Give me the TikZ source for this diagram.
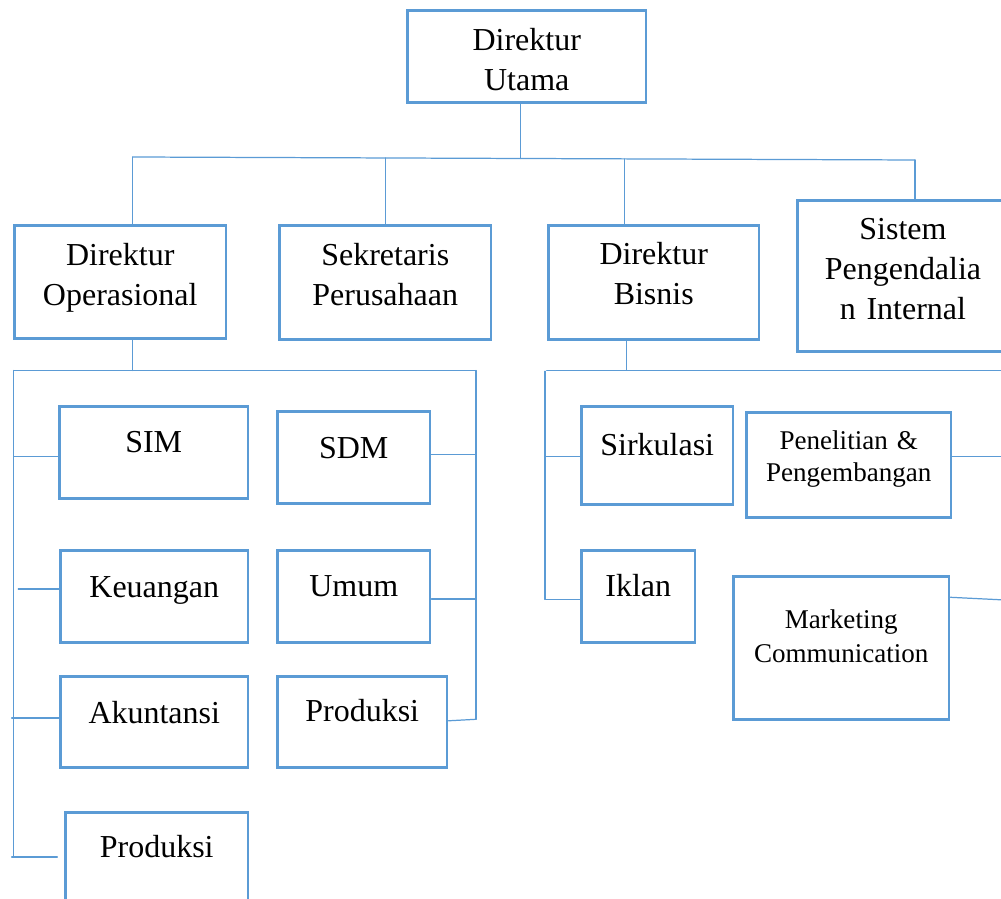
\documentclass[tikz,border=0pt]{standalone}
\usepackage{fontspec}
\setmainfont{Liberation Serif}
\usepackage{xcolor}
\definecolor{orgblue}{HTML}{5B9BD5}
\newcommand{\unitfont}{\fontsize{18.2pt}{22.8pt}\selectfont}
\newcommand{\smallunitfont}{\fontsize{15.4pt}{18pt}\selectfont}

\begin{document}
\begin{tikzpicture}[line cap=round,
  unit/.style={draw=orgblue,line width=1.7pt,anchor=north west,inner sep=0pt,align=center,font=\unitfont},
  link/.style={draw=orgblue,line width=0.7pt}]
\useasboundingbox (0,0) rectangle (20.02,17.98);
% top level
\node[unit,text width=4.77cm,text height=0.8cm,text depth=1.04cm] (utama) at (8.12,17.8) {Direktur\\Utama};
\node[unit,text width=4.23cm,text height=0.8cm,text depth=1.46cm] (dirops) at (0.26,13.5) {Direktur\\Operasional};
\node[unit,text width=4.23cm,text height=0.8cm,text depth=1.48cm] (sekre) at (5.56,13.5) {Sekretaris\\Perusahaan};
\node[unit,text width=4.21cm,text height=0.78cm,text depth=1.5cm] (dirbis) at (10.94,13.5) {Direktur\\Bisnis};
\node[unit,text width=4.22cm,text height=0.78cm,text depth=2.24cm] (spi) at (15.92,14.0) {Sistem\\Pengendalia\\n Internal};
% operasional
\node[unit,text width=3.77cm,text height=0.92cm,text depth=0.92cm] (sim) at (1.16,9.88) {SIM};
\node[unit,text width=3.05cm,text height=0.94cm,text depth=0.9cm] (sdm) at (5.52,9.78) {SDM};
\node[unit,text width=3.75cm,text height=0.93cm,text depth=0.9cm] (keu) at (1.18,6.99) {Keuangan};
\node[unit,text width=3.05cm,text height=0.91cm,text depth=0.92cm] (umum) at (5.52,6.99) {Umum};
\node[unit,text width=3.75cm,text height=0.94cm,text depth=0.89cm] (akun) at (1.18,4.48) {Akuntansi};
\node[unit,text width=3.39cm,text height=0.9cm,text depth=0.93cm] (prodR) at (5.52,4.48) {Produksi};
\node[unit,text width=3.65cm,text height=0.89cm,text depth=1.0cm] (prodL) at (1.28,1.75) {Produksi};
% bisnis
\node[unit,text width=3.03cm,text height=0.98cm,text depth=0.98cm] (sirk) at (11.6,9.88) {Sirkulasi};
\node[unit,text width=2.27cm,text height=0.91cm,text depth=0.92cm] (iklan) at (11.6,6.99) {Iklan};
\node[unit,font=\smallunitfont,text width=4.09cm,text height=0.74cm,text depth=1.35cm] (pp) at (14.9,9.754) {Penelitian \&\\Pengembangan};
\node[unit,font=\fontsize{15.4pt}{19.3pt}\selectfont,text width=4.31cm,text height=1.05cm,text depth=1.81cm] (mc) at (14.64,6.48) {Marketing\\Communication};

% connectors, top
\coordinate (busL) at (2.654,14.84);
\coordinate (busR) at (18.3,14.78);
\draw[link] (utama.south -| 10.41,0) -- (10.41,14.81);
\draw[link] (busL) -- (busR);
\draw[link] (busL) -- (busL |- dirops.north);
\draw[link] (sekre.north |- 0,14.82) -- (sekre.north);
\draw[link] (12.49,14.8) -- (12.49,13.5);
\draw[link] (busR) -- (busR |- spi.north);
% connectors, operasional
\coordinate (opsL) at (0.274,10.568);
\coordinate (opsR) at (9.52,10.568);
\draw[link] (dirops.south -| busL) -- (busL |- opsL);
\draw[link] (opsL) -- (opsR);
\draw[link] (opsL) -- (0.274,0.84);
\draw[link] (opsR) -- (9.52,3.594);
\draw[link] (0.274,8.848) -- (sim.west |- 0,8.848);
\draw[link] (0.366,6.2) -- (keu.west |- 0,6.2);
\draw[link] (0.234,3.62) -- (akun.west |- 0,3.62);
\coordinate (prodLend) at (1.146,0.84);
\draw[link] (0.234,0.84) -- (prodLend);
\draw[link] (sdm.east |- 0,8.884) -- (9.52,8.884);
\draw[link] (umum.east |- 0,6.0) -- (9.52,6.0);
\draw[link] (prodR.east |- 0,3.564) -- (9.52,3.594);
% connectors, bisnis
\coordinate (bisL) at (10.934,10.574);
\coordinate (bisR) at (20.1,10.574);
\draw[link] (dirbis.south -| 12.534,0) -- (12.534,10.574);
\draw[link] (bisL) -- (bisR);
\draw[link] (10.9,10.554) -- (10.9,5.994);
\draw[link] (10.9,8.846) -- (sirk.west |- 0,8.846);
\draw[link] (10.9,5.994) -- (iklan.west |- 0,5.994);
\draw[link] (pp.east |- 0,8.846) -- (20.1,8.846);
\draw[link] (mc.east |- 0,6.034) -- (20.1,5.98);
\end{tikzpicture}
\end{document}
